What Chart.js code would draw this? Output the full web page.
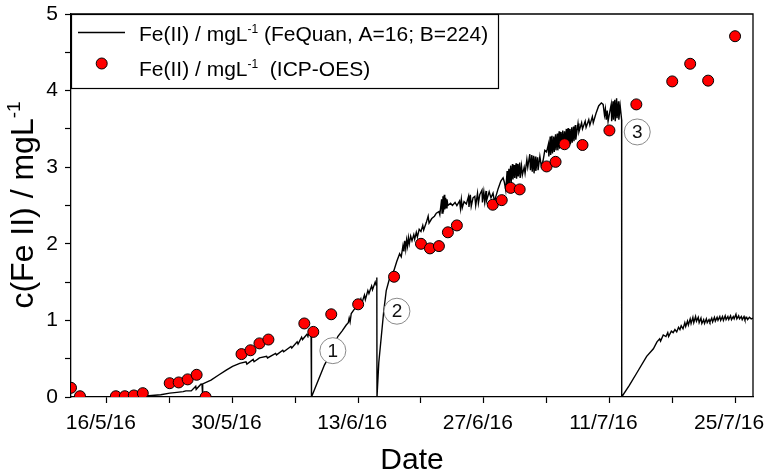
<!DOCTYPE html>
<html><head><meta charset="utf-8">
<script src="https://cdn.jsdelivr.net/npm/chart.js@4.4.1/dist/chart.umd.min.js"></script>
<style>html,body{margin:0;padding:0;background:#fff}canvas{display:block}</style>
</head><body>
<canvas id="c" width="768" height="476" style="width:768px;height:476px"></canvas>
<script>
const FONT = "'Liberation Sans', Arial, sans-serif";

// x values are days counted from 16/5/16 (day 0)
const majorTickDays = [0, 14, 28, 42, 56, 70];
const majorTickLabels = ["16/5/16", "30/5/16", "13/6/16", "27/6/16", "11/7/16", "25/7/16"];
const minorTickDays = [7, 21, 35, 49, 63];
const yTickValues = [0, 0.5, 1, 1.5, 2, 2.5, 3, 3.5, 4, 4.5, 5];

// ICP-OES measurements
const icpDays = [-4, -3, 1, 2, 3, 4, 7, 8, 9, 10, 11, 15, 16, 17, 18, 22, 23, 25, 28, 32,
  35, 36, 37, 38, 39, 43, 44, 45, 46, 49, 50, 51, 53, 56, 59, 63, 65, 67, 70];
const icpValues = [0.12, 0.01, 0.01, 0.01, 0.02, 0.05, 0.18, 0.19, 0.23, 0.29, 0.0, 0.56, 0.61, 0.70, 0.75, 0.96, 0.85, 1.08, 1.21, 1.57,
  2.00, 1.94, 1.97, 2.15, 2.24, 2.51, 2.57, 2.73, 2.71, 3.01, 3.07, 3.30, 3.29, 3.48, 3.82, 4.12, 4.35, 4.13, 4.71];

// FeQuan online sensor trace, [day, value] — four runs separated by resets
const feQuanRun1 = [[4.0,0.01],[5.0,0.02],[6.0,0.03],[7.0,0.05],[7.8,0.06],[8.5,0.07],[8.8,0.08],[9.4,0.08],[9.9,0.14],[9.95,0.10],
  [10.5,0.17],[10.6,0.16],[10.65,0.01],[10.7,0.17],[11.6,0.22],[12.5,0.29],[13.3,0.35],[14.0,0.40],[14.8,0.44],[15.5,0.46],[15.6,0.43],
  [16.3,0.49],[16.4,0.46],[17.0,0.51],[17.8,0.53],[17.9,0.51],[18.8,0.57],[18.9,0.55],[19.6,0.61],[19.7,0.59],[20.5,0.66],[20.6,0.64],
  [21.2,0.72],[21.3,0.69],[21.7,0.78],[21.8,0.75],[22.3,0.82],[22.4,0.80],[22.75,0.86],[22.8,0.0]];
const feQuanRun2 = [[24.25,0.42],[25.0,0.58],[25.73,0.79],[26.2,0.86],[26.67,0.94],[26.9,0.97],[27.0,1.03],[27.1,0.98],[27.23,1.09],
  [27.6,1.15],[28.16,1.24],[28.3,1.28],[28.4,1.22],[28.7,1.33],[28.8,1.27],[29.08,1.39],[29.2,1.35],[29.5,1.45],[29.6,1.40],[29.9,1.50],
  [30.0,1.46],[30.08,1.56],[30.1,0.0]];
const feQuanRun3 = [[30.15,0.0],[30.3,0.45],[30.58,0.79],[30.85,1.12],[31.13,1.39],[31.5,1.55],[31.98,1.65],[32.3,1.77],[32.62,1.87],
  [32.8,1.83],[33.0,1.98],[33.1,1.90],[33.2,2.04],[33.3,1.93],[33.4,2.05],[33.5,1.97],[33.6,2.08],[33.7,2.00],[33.85,2.10],[34.0,2.04],
  [34.2,2.12],[34.3,2.06],[34.48,2.15],[34.6,2.09],[34.8,2.19],[35.0,2.16],[35.2,2.24],[35.3,2.18],[35.6,2.28],[35.8,2.36],[35.9,2.27],
  [36.2,2.33],[36.5,2.36],[36.71,2.40],[37.0,2.42],[37.1,2.38],[37.3,2.58],[37.35,2.40],[37.45,2.62],[37.5,2.42],[37.6,2.64],[37.65,2.45],
  [37.75,2.60],[37.8,2.47],[37.9,2.58],[38.0,2.50],[38.3,2.53],[38.5,2.50],[38.8,2.54],[39.0,2.50],[39.3,2.56],[39.4,2.46],[39.5,2.58],
  [39.6,2.47],[39.8,2.55],[40.06,2.52],[40.3,2.62],[40.35,2.48],[40.5,2.64],[40.6,2.49],[40.8,2.60],[41.0,2.62],[41.1,2.50],[41.3,2.66],
  [41.4,2.53],[41.55,2.64],[41.8,2.70],[41.85,2.54],[42.0,2.68],[42.1,2.55],[42.25,2.69],[42.3,2.56],[42.6,2.68],[42.8,2.60],[43.03,2.66],
  [43.2,2.54],[43.3,2.60],[43.6,2.72],[43.9,2.82],[44.15,2.86],[44.3,2.80],[44.45,2.70],[44.6,2.95],[44.65,2.74],[44.8,2.98],[44.85,2.78],
  [45.0,3.02],[45.05,2.80],[45.2,3.04],[45.25,2.84],[45.4,3.03],[45.45,2.86],[45.6,3.05],[45.65,2.85],[45.8,3.04],[45.85,2.88],[46.0,3.06],
  [46.05,2.86],[46.2,3.02],[46.3,2.90],[46.5,3.00],[46.6,2.92],[46.8,3.10],[46.9,3.00],[47.13,3.17],[47.2,2.96],[47.35,3.16],[47.4,2.94],
  [47.55,3.15],[47.6,2.92],[47.75,3.14],[47.8,2.95],[48.0,3.13],[48.05,2.96],[48.25,3.14],[48.4,3.02],[48.6,3.08],[48.8,3.22],[49.0,3.20],
  [49.2,3.30],[49.25,3.14],[49.4,3.40],[49.45,3.16],[49.6,3.41],[49.65,3.18],[49.8,3.40],[49.85,3.20],[50.0,3.43],[50.05,3.22],[50.2,3.44],
  [50.25,3.22],[50.4,3.47],[50.45,3.24],[50.6,3.46],[50.65,3.26],[50.8,3.48],[50.85,3.26],[51.0,3.47],[51.05,3.28],[51.2,3.50],[51.25,3.28],
  [51.4,3.51],[51.45,3.30],[51.6,3.50],[51.65,3.30],[51.8,3.52],[51.85,3.32],[52.0,3.53],[52.05,3.34],[52.2,3.55],[52.25,3.36],[52.5,3.57],
  [52.6,3.46],[52.9,3.58],[53.0,3.50],[53.3,3.60],[53.4,3.52],[53.7,3.62],[53.82,3.55],[54.1,3.66],[54.2,3.58],[54.5,3.70],[54.8,3.80],
  [55.1,3.84],[55.3,3.82],[55.45,3.68],[55.55,3.76],[55.65,3.62],[55.75,3.74],[55.85,3.60],[56.0,3.70],[56.2,3.82],[56.25,3.60],[56.4,3.86],
  [56.45,3.62],[56.6,3.88],[56.65,3.60],[56.8,3.90],[56.85,3.64],[57.0,3.86],[57.05,3.62],[57.2,3.80],[57.36,3.62],[57.37,0.0]];
const feQuanRun4 = [[58.2,0.15],[59.03,0.31],[60.15,0.53],[60.9,0.63],[61.3,0.72],[61.6,0.76],[61.7,0.73],[62.0,0.81],[62.3,0.79],
  [62.5,0.84],[62.6,0.79],[62.9,0.86],[63.1,0.84],[63.3,0.88],[63.5,0.85],[63.7,0.91],[63.86,0.88],[64.0,0.93],[64.2,0.89],[64.4,0.97],
  [64.5,0.92],[64.7,0.99],[64.8,0.94],[65.0,1.02],[65.1,0.96],[65.3,1.04],[65.4,0.97],[65.6,1.05],[65.7,0.99],[65.9,1.04],[66.0,0.97],
  [66.2,1.03],[66.3,0.96],[66.5,1.01],[66.6,0.96],[66.8,1.02],[66.9,0.97],[67.1,1.01],[67.2,0.98],[67.4,1.03],[67.5,0.98],[67.7,1.04],
  [67.8,0.99],[68.0,1.04],[68.1,1.00],[68.3,1.05],[68.4,1.00],[68.6,1.05],[68.7,1.00],[68.9,1.06],[69.0,1.01],[69.2,1.05],[69.3,1.01],
  [69.5,1.06],[69.6,1.01],[69.8,1.05],[69.9,1.02],[70.1,1.08],[70.2,1.02],[70.4,1.06],[70.5,1.02],[70.7,1.05],[70.8,1.01],[71.0,1.05],
  [71.1,1.01],[71.3,1.04],[71.4,1.01],[71.6,1.04],[71.8,1.02],[72.0,1.03]];

// numbered event markers
const markerDays = [25.18, 32.32, 59.1];
const markerValues = [0.605, 1.12, 3.46];
const markerLabels = ["1", "2", "3"];

function pts(xs, ys) { return xs.map((x, i) => ({ x: x, y: ys[i] })); }
const feQuanData = [].concat(feQuanRun1, feQuanRun2, feQuanRun3, feQuanRun4).map(p => ({ x: p[0], y: p[1] }));

function drawParts(ctx, x, y, parts) {
  let cx = x;
  for (const [t, size, dy] of parts) {
    ctx.font = size + 'px ' + FONT;
    ctx.fillText(t, cx, y + dy);
    cx += ctx.measureText(t).width;
  }
}
function partsWidth(ctx, parts) {
  let w = 0;
  for (const [t, size] of parts) { ctx.font = size + 'px ' + FONT; w += ctx.measureText(t).width; }
  return w;
}

const decor = {
  id: 'decor',
  beforeDatasetsDraw(chart) {
    const { ctx, chartArea: a } = chart;
    ctx.save();
    ctx.strokeStyle = '#000';
    ctx.lineWidth = 1.3;
    ctx.beginPath();
    ctx.moveTo(a.left, a.top); ctx.lineTo(a.right, a.top); ctx.lineTo(a.right, a.bottom);
    ctx.stroke();
    ctx.restore();
  },
  afterDatasetsDraw(chart) {
    const { ctx } = chart;
    const meta = chart.getDatasetMeta(1);
    ctx.save();
    ctx.fillStyle = '#111';
    ctx.font = '19px ' + FONT;
    ctx.textAlign = 'center';
    ctx.textBaseline = 'middle';
    meta.data.forEach((p, i) => ctx.fillText(markerLabels[i], p.x, p.y + 1));
    ctx.restore();
  },
  afterDraw(chart) {
    const { ctx, chartArea: a } = chart;
    ctx.save();
    // legend box
    ctx.fillStyle = '#fff';
    ctx.strokeStyle = '#000';
    ctx.lineWidth = 1.2;
    ctx.fillRect(a.left, a.top, 427, 74);
    ctx.strokeRect(a.left + 0.5, a.top + 0.5, 427, 74);
    ctx.beginPath(); ctx.moveTo(78, 32.5); ctx.lineTo(125, 32.5); ctx.lineWidth = 1.4; ctx.stroke();
    ctx.beginPath(); ctx.arc(101.7, 63.5, 5.5, 0, Math.PI * 2);
    ctx.fillStyle = '#ff0000'; ctx.fill(); ctx.lineWidth = 1; ctx.stroke();
    ctx.fillStyle = '#000';
    ctx.textBaseline = 'alphabetic';
    ctx.textAlign = 'left';
    drawParts(ctx, 139, 40.5, [['Fe(II) / mgL', 21, 0], ['-1', 12, -8], [' (FeQuan, A=16; B=224)', 21, 0]]);
    drawParts(ctx, 139, 76, [['Fe(II) / mgL', 21, 0], ['-1', 12, -8], ['  (ICP-OES)', 21, 0]]);
    // x title
    ctx.font = '30px ' + FONT;
    ctx.textAlign = 'center';
    ctx.fillText('Date', (a.left + a.right) / 2, 469);
    // y title
    ctx.textAlign = 'left';
    const yParts = [['c(Fe II) / mgL', 32, 0], ['-1', 19, -13]];
    const w = partsWidth(ctx, yParts);
    ctx.translate(23, 205);
    ctx.rotate(-Math.PI / 2);
    drawParts(ctx, -w / 2, 10, yParts);
    ctx.restore();
  }
};

new Chart(document.getElementById('c'), {
  type: 'scatter',
  data: {
    datasets: [
      { label: 'Fe(II) / mgL-1 (ICP-OES)', data: pts(icpDays, icpValues), backgroundColor: '#ff0000',
        borderColor: '#000', borderWidth: 1, pointRadius: 5.5, order: 0 },
      { label: 'events', data: pts(markerDays, markerValues), backgroundColor: '#fff',
        borderColor: '#8a8a8a', borderWidth: 1, pointRadius: 13, order: 1 },
      { label: 'Fe(II) / mgL-1 (FeQuan, A=16; B=224)', data: feQuanData, showLine: true,
        borderColor: '#000', borderWidth: 1.4, pointRadius: 0, tension: 0, fill: false, order: 2 }
    ]
  },
  options: {
    responsive: false, animation: false, devicePixelRatio: 1,
    layout: { padding: { left: 0, top: 12, right: 15, bottom: 0 } },
    plugins: { legend: { display: false }, tooltip: { enabled: false } },
    scales: {
      x: {
        type: 'linear', min: -4, max: 72,
        afterBuildTicks: s => { s.ticks = majorTickDays.concat(minorTickDays).sort((p, q) => p - q).map(v => ({ value: v })); },
        afterFit: s => { s.height = 79; s.paddingLeft = 0; s.paddingRight = 0; },
        grid: { drawOnChartArea: false, drawTicks: true, tickLength: 6, tickColor: '#000', tickWidth: 1.2 },
        border: { color: '#000', width: 1.3 },
        ticks: {
          autoSkip: false, maxRotation: 0, color: '#000', font: { family: FONT, size: 21 }, padding: 8, labelOffset: -6,
          callback: v => { const i = majorTickDays.indexOf(v); return i >= 0 ? majorTickLabels[i] : ''; }
        }
      },
      y: {
        min: 0, max: 5,
        afterBuildTicks: s => { s.ticks = yTickValues.map(v => ({ value: v })); },
        afterFit: s => { s.width = 71; s.paddingTop = 0; s.paddingBottom = 0; },
        grid: { drawOnChartArea: false, drawTicks: true, tickLength: 6, tickColor: '#000', tickWidth: 1.2 },
        border: { color: '#000', width: 1.3 },
        ticks: {
          autoSkip: false, color: '#000', font: { family: FONT, size: 21 }, padding: 7,
          callback: v => Number.isInteger(v) ? String(v) : ''
        }
      }
    }
  },
  plugins: [decor]
});
</script>
</body></html>
